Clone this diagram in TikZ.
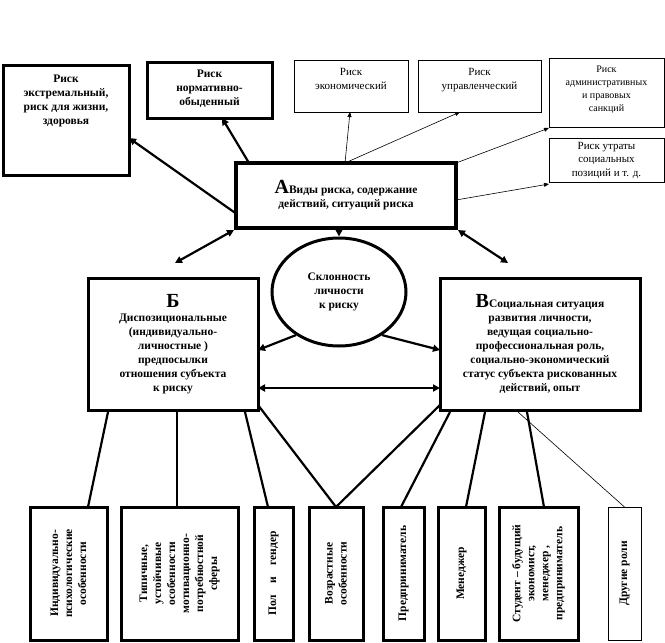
\documentclass[tikz,border=0pt]{standalone}
\usepackage{fontspec}
\setmainfont{Liberation Serif}
\usetikzlibrary{arrows.meta,shapes.geometric}
\begin{document}
\begin{tikzpicture}[x=1pt,y=-1pt,
 thk/.style={draw,line width=3pt},
 thn/.style={draw,line width=0.6pt},
 bx/.style={anchor=north west,inner sep=0pt,outer sep=0pt},
 tb/.style={font=\bfseries\fontsize{11.5}{14}\selectfont,align=center},
 tn/.style={font=\fontsize{11}{13.5}\selectfont,align=center},
 ar/.style={line width=2.2pt,-{Triangle[length=7pt,width=7pt]}},
 dar/.style={line width=2.2pt,{Triangle[length=7pt,width=7pt]}-{Triangle[length=7pt,width=7pt]}},
 tar/.style={line width=0.6pt,-{Triangle[length=5pt,width=4pt]}},
 ln/.style={line width=2.2pt}]
\useasboundingbox (0,0) rectangle (665,643);
% top boxes
\node[thk,bx,minimum width=126pt,minimum height=110pt] (r1) at (3,65) {};
\node[tb,anchor=north] at ([yshift=-6pt]r1.north) {Риск\\экстремальный,\\риск для жизни,\\здоровья};
\node[thk,bx,minimum width=125pt,minimum height=56pt] (r2) at (147,62) {};
\node[tb,anchor=north] at ([yshift=-4pt]r2.north) {Риск\\нормативно-\\обыденный};
\node[thn,bx,minimum width=114pt,minimum height=52pt] (r3) at (294,60) {};
\node[tn,anchor=north] at ([yshift=-5pt]r3.north) {Риск\\экономический};
\node[thn,bx,minimum width=123pt,minimum height=52pt] (r4) at (418,60) {};
\node[tn,anchor=north] at ([yshift=-5pt]r4.north) {Риск\\управленческий};
\node[thn,bx,minimum width=115pt,minimum height=69pt] (r5) at (549,58) {};
\node[tn,anchor=north,font=\fontsize{10}{13}\selectfont] at ([yshift=-4pt]r5.north) {Риск\\административных\\и правовых\\санкций};
\node[thn,bx,minimum width=115pt,minimum height=44pt] (r6) at (549,138) {};
\node[tn] at (r6.center) {Риск утраты\\социальных\\позиций и т. д.};
% A
\node[draw,line width=4pt,bx,minimum width=220pt,minimum height=65pt] (A) at (236,163) {};
\node[tb] at (A.center) {{\fontsize{20}{20}\selectfont А}Виды риска, содержание\\действий, ситуаций риска};
% ellipse
\node[draw,ellipse,line width=3pt,minimum width=134pt,minimum height=108pt] (E) at (339,292) {};
\node[tb] at (E.center) {Склонность\\личности\\к риску};
% B and V
\node[thk,bx,minimum width=170pt,minimum height=132pt] (B) at (88,278) {};
\node[tb] at (B.center) {{\fontsize{20}{20}\selectfont Б}\\Диспозициональные\\(индивидуально-\\личностные )\\предпосылки\\отношения субъекта\\к риску};
\node[thk,bx,minimum width=200pt,minimum height=132pt] (V) at (440,278) {};
\node[tb] at (V.center) {{\fontsize{20}{20}\selectfont В}Социальная ситуация\\развития личности,\\ведущая социально-\\профессиональная роль,\\социально-экономический\\статус субъекта рискованных\\действий, опыт};
% bottom boxes
\node[thk,bx,minimum width=77pt,minimum height=133pt] (b1) at (30,507) {};
\node[tb,rotate=90] at (b1.center) {Индивидуально-\\психологические\\особенности};
\node[thk,bx,minimum width=117pt,minimum height=133pt] (b2) at (121,507) {};
\node[tb,rotate=90] at (b2.center) {Типичные,\\устойчивые\\особенности\\мотивационно-\\потребностной\\сферы};
\node[thk,bx,minimum width=39pt,minimum height=133pt] (b3) at (254,507) {};
\node[tb,rotate=90] at (b3.center) {Пол\quad и\quad гендер};
\node[thk,bx,minimum width=54pt,minimum height=133pt] (b4) at (309,507) {};
\node[tb,rotate=90] at (b4.center) {Возрастные\\особенности};
\node[thk,bx,minimum width=41pt,minimum height=133pt] (b5) at (383,507) {};
\node[tb,rotate=90] at (b5.center) {Предприниматель};
\node[thk,bx,minimum width=47pt,minimum height=133pt] (b6) at (438,507) {};
\node[tb,rotate=90] at (b6.center) {Менеджер};
\node[thk,bx,minimum width=79pt,minimum height=133pt] (b7) at (499,507) {};
\node[tb,rotate=90] at (b7.center) {Студент -- будущий\\экономист,\\менеджер ,\\предприниматель};
\node[thn,bx,minimum width=33pt,minimum height=133pt] (b8) at (608,507) {};
\node[tb,rotate=90] at (b8.center) {Другие роли};
% connectors from A
\draw[ar] ([yshift=-18pt]A.west) -- (r1.east |- 0,138);
\draw[ar] ([xshift=13pt]A.north west) -- (222,118);
\coordinate (ap) at (345,163);
\draw[tar] (ap) -- (350,112);
\draw[tar] (ap) -- (460,112);
\draw[tar] (A.north east) -- (549,128);
\draw[tar] (456,200) -- (549,184);
\draw[dar] ([shift={(-2pt,-2pt)}]A.south west) -- (175,263);
\draw[dar] ([shift={(2pt,-2pt)}]A.south east) -- (508,263);
\draw[ar] (A.south -| E.north) -- (E.north);
% ellipse to B and V
\draw[ar] (E.225) -- (258,350);
\draw[ar] (E.315) -- (440,350);
\draw[dar] (258,388) -- (440,388);
% fan lines
\draw[ln] (108,412) -- (b1.north -| 88,0);
\draw[ln] (177,412) -- (b2.north -| 177,0);
\draw[ln] (245,412) -- (b3.north -| 268,0);
\draw[ln] (258,405) -- (b4.north);
\draw[ln] (440,405) -- (b4.north);
\draw[ln] (450,412) -- (b5.north -| 401,0);
\draw[ln] (485,412) -- (b6.north -| 466,0);
\draw[ln] (527,412) -- (b7.north -| 544,0);
\draw[line width=0.6pt] (518,412) -- (b8.north);
\end{tikzpicture}
\end{document}
